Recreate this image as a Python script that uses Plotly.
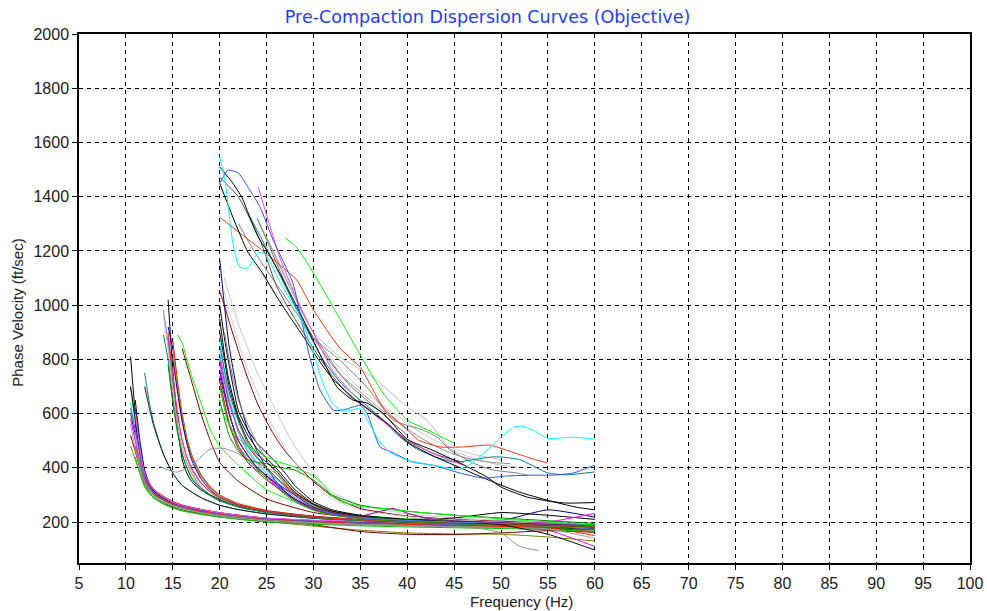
import plotly.graph_objects as go

# ---------------- Group A: curves starting near 10.5-12 Hz ----------------
GA_F = [10.5, 11, 11.5, 12, 12.5, 13, 14, 15, 16, 18, 20, 22, 25, 30, 35, 40, 45, 50, 55, 60]
A_VELS = [
    [810, 600, 450, 360, 325, 305, 282, 265, 252, 238, 226, 218, 208, 200, 196, 192, 190, 186, 180, 172],
    [640, 540, 440, 370, 335, 315, 290, 272, 260, 244, 232, 222, 212, 204, 198, 194, 190, 188, 184, 178],
    [700, 560, 430, 350, 318, 300, 278, 262, 250, 236, 224, 216, 206, 198, 192, 188, 184, 180, 176, 170],
    [None, 560, 470, 380, 340, 318, 292, 274, 262, 246, 234, 225, 214, 206, 200, 196, 193, 190, 186, 180],
    [580, 500, 420, 360, 328, 308, 284, 268, 255, 240, 228, 220, 210, 202, 196, 192, 188, 184, 170, 110],
    [None, 620, 480, 390, 345, 320, 295, 276, 263, 247, 235, 226, 214, 205, 199, 194, 190, 185, 178, 165],
    [None, 650, 500, 390, 340, 315, 290, 272, 260, 245, 233, 224, 213, 205, 198, 194, 191, 188, 185, 182],
    [480, 430, 380, 330, 305, 288, 268, 254, 243, 230, 220, 212, 202, 185, 170, 160, 156, 155, 145, 130],
    [600, 520, 440, 370, 335, 312, 287, 270, 258, 243, 231, 222, 212, 204, 198, 193, 189, 186, 182, 178],
    [None, None, None, 750, 640, 560, 450, 380, 335, 290, 262, 246, 230, 214, 205, 199, 195, 191, 187, 184],
    [None, None, None, 700, 620, 550, 450, 380, 335, 290, 262, 246, 230, 214, 205, 199, 195, 191, 187, 183],
    [520, 460, 400, 350, 322, 302, 280, 264, 252, 238, 226, 218, 208, 190, 165, 155, 154, 160, 168, 162],
    [None, 520, 440, 370, 338, 315, 290, 272, 258, 242, 230, 222, 212, 204, 200, 196, 193, 190, 186, 182],
    [None, 480, 400, 340, 312, 294, 272, 256, 245, 232, 221, 213, 203, 195, 190, 186, 183, 180, 176, 172],
    [700, 580, 460, 375, 338, 314, 288, 270, 258, 243, 230, 222, 212, 205, 200, 197, 195, 193, 190, 186],
    [620, 540, 450, 365, 330, 310, 285, 268, 256, 242, 230, 221, 211, 203, 197, 193, 190, 187, 183, 176],
    [None, 480, 410, 355, 326, 306, 282, 266, 254, 240, 228, 220, 209, 201, 195, 191, 187, 184, 180, 150],
    [None, 440, 380, 330, 305, 288, 266, 252, 241, 228, 218, 210, 200, 192, 186, 182, 179, 176, 172, 165],
    [560, 470, 400, 345, 318, 298, 276, 260, 248, 234, 222, 214, 204, 196, 190, 186, 183, 180, 175, 140],
    [None, 600, 470, 380, 342, 318, 292, 273, 261, 246, 234, 225, 215, 207, 202, 198, 195, 192, 189, 185],
]
A_COLORS = ["#000000", "#00FFFF", "#00FF00", "#0000FF", "#FF00FF", "#FF0000", "#000080",
            "#808000", "#800080", "#008080", "#202020", "#800000", "#C0C0C0", "#008000",
            "#000000", "#4060FF", "#FF2000", "#00C000", "#A0A0A0", "#FF60FF"]

# gray curve ending early near 54 Hz
A_GRAY_F = [11, 11.5, 12, 13, 15, 18, 20, 25, 30, 35, 40, 45, 48, 50, 52, 54]
A_GRAY_V = [470, 410, 350, 300, 262, 236, 226, 208, 198, 192, 188, 182, 175, 160, 110, 95]

# ---------------- Group B: curves starting near 14-16 Hz ----------------
GB_F = [14, 14.5, 15, 15.5, 16, 16.5, 17, 18, 19, 20, 22, 25, 30, 35, 40, 45, 50, 55, 60]
B_VELS = [
    [None, 1020, 760, 560, 430, 380, 350, 318, 300, 285, 262, 240, 220, 208, 200, 195, 190, 185, 178],
    [980, 860, 700, 560, 470, 420, 380, 330, 300, 280, 256, 236, 216, 205, 198, 193, 189, 185, 180],
    [890, 800, 660, 540, 450, 400, 360, 320, 296, 278, 255, 235, 216, 206, 200, 195, 191, 187, 182],
    [None, 920, 840, 700, 580, 500, 440, 370, 325, 298, 265, 240, 220, 208, 202, 197, 193, 189, 185],
    [None, None, 870, 720, 600, 510, 450, 375, 330, 300, 268, 243, 222, 210, 203, 198, 194, 190, 186],
    [None, None, 840, 700, 590, 500, 445, 370, 325, 298, 265, 240, 220, 208, 200, 195, 190, 185, 180],
    [None, None, None, 890, 860, 800, 740, 640, 540, 480, 410, 320, 250, 225, 212, 205, 200, 195, 188],
    [None, None, None, None, 840, 780, 720, 600, 500, 420, 350, 285, 235, 215, 206, 200, 196, 191, 186],
    [None, 880, 740, 600, 500, 440, 400, 345, 310, 288, 260, 238, 218, 207, 200, 195, 191, 187, 183],
    [960, 840, 690, 560, 470, 420, 385, 340, 308, 287, 260, 238, 218, 207, 200, 196, 192, 188, 184],
    [None, None, 800, 680, 570, 490, 430, 360, 318, 292, 262, 240, 220, 208, 200, 200, 205, 245, 218],
    [None, 780, 640, 530, 450, 400, 365, 325, 300, 282, 258, 237, 217, 206, 199, 194, 190, 186, 181],
    [None, 900, 740, 600, 500, 440, 395, 345, 312, 290, 262, 240, 220, 208, 201, 196, 192, 188, 184],
]
B_COLORS = ["#000000", "#808080", "#008080", "#0000FF", "#FF0000", "#C0A000", "#00FF00",
            "#800000", "#FF00FF", "#C0C0C0", "#000080", "#008000", "#FF3030"]

# gray curve with a hump near 20 Hz
B_HUMP_F = [13.6, 14.5, 15.4, 16.8, 18, 19, 20.4, 21.5, 22.5, 24, 26, 28, 30, 35, 40, 45, 50, 55, 60]
B_HUMP_V = [405, 392, 384, 403, 440, 470, 472, 460, 440, 403, 340, 285, 250, 220, 205, 198, 192, 186, 178]

# ---------------- Group C: curves starting near 20 Hz ----------------
GC_F = [20, 20.5, 21, 22, 23, 24, 25, 26, 27, 28, 30, 32, 35, 40, 45, 50, 55, 60]
C_VELS = [
    [1170, 1000, 850, 660, 540, 460, 400, 350, 312, 285, 250, 232, 216, 204, 198, 193, 189, 184],
    [1050, 1000, 940, 830, 730, 640, 570, 510, 460, 420, 350, 295, 250, 222, 210, 203, 197, 190],
    [None, 1100, 1040, 930, 840, 750, 680, 610, 540, 480, 380, 310, 262, 230, 215, 207, 200, 193],
    [1000, 880, 780, 610, 540, 490, 455, 420, 380, 335, 275, 245, 225, 210, 215, 235, 225, 210],
    [950, 820, 720, 590, 520, 470, 435, 400, 360, 320, 268, 240, 222, 208, 201, 196, 192, 188],
    [880, 760, 660, 540, 470, 420, 390, 360, 330, 300, 258, 234, 218, 206, 200, 195, 191, 187],
    [800, 720, 640, 540, 480, 435, 400, 365, 335, 305, 262, 237, 219, 207, 200, 195, 190, 182],
    [790, 690, 610, 480, 420, 390, 365, 335, 305, 280, 245, 228, 214, 204, 199, 194, 200, 232],
    [760, 680, 600, 500, 445, 400, 370, 340, 310, 285, 250, 230, 215, 205, 199, 194, 190, 185],
    [700, 620, 560, 480, 430, 395, 360, 330, 300, 275, 243, 226, 212, 202, 196, 191, 187, 183],
    [850, 760, 680, 570, 490, 440, 400, 365, 330, 300, 255, 232, 216, 205, 199, 194, 190, 186],
    [None, 900, 800, 650, 560, 490, 430, 380, 340, 310, 265, 238, 220, 207, 200, 195, 191, 186],
    [720, 640, 570, 480, 440, 420, 400, 380, 345, 310, 262, 235, 218, 206, 200, 195, 190, 184],
    [650, 580, 520, 460, 430, 420, 415, 405, 398, 392, 355, 300, 262, 240, 225, 215, 205, 195],
    [None, 1050, 980, 860, 760, 680, 600, 530, 470, 420, 340, 285, 245, 220, 208, 200, 194, 188],
    [720, 640, 560, 470, 420, 385, 355, 330, 305, 282, 248, 229, 214, 204, 197, 192, 187, 180],
    [900, 800, 700, 580, 500, 450, 420, 390, 350, 310, 265, 240, 222, 209, 202, 190, 155, 97],
    [820, 730, 650, 530, 460, 415, 380, 350, 320, 292, 252, 231, 216, 206, 200, 196, 193, 190],
]
C_COLORS = ["#000080", "#800000", "#C8C8C8", "#000000", "#000000", "#00FFFF", "#FF0000",
            "#FF00FF", "#0000FF", "#00C000", "#008080", "#808080", "#A09000", "#008000",
            "#D0D0D0", "#804000", "#101010", "#4080FF"]

# purple curve with a bump near 38 Hz
C_PURPLE_F = [20, 21, 22, 24, 26, 28, 30, 33, 35, 37, 38.5, 40, 42, 45, 50, 55, 60]
C_PURPLE_V = [740, 600, 500, 400, 345, 300, 255, 228, 222, 238, 250, 233, 215, 205, 198, 192, 186]

# lime curve with a shoulder near 25-30 Hz
C_LIME_F = [20, 21, 22, 23, 24, 25, 26, 28, 30, 31, 32, 33, 35, 38, 40, 45, 50, 55, 60]
C_LIME_V = [620, 560, 510, 480, 460, 440, 425, 403, 370, 340, 295, 275, 258, 248, 240, 225, 212, 200, 190]

# ---------------- Group D: upper curves (20-27 Hz start) ----------------
D_CYAN_F = [20.0, 20.6, 21.4, 22.1, 23.0, 24.1, 24.8, 26.5, 28.6, 29.9, 31.0, 32.0, 32.8, 34.0, 35.0,
            36.0, 37.0, 38.0, 40.0, 42.0, 44.0, 45.6, 47.0, 48.5, 50.0, 51.3, 52.3, 53.4, 55.0, 57.7, 60.0]
D_CYAN_V = [1550, 1450, 1230, 1140, 1137, 1192, 1192, 1080, 956, 834, 713, 640, 615, 612, 620,
            560, 500, 460, 428, 414, 402, 394, 420, 465, 513, 550, 554, 539, 509, 513, 506]

D_BLUE_F = [20.0, 20.9, 22.0, 23.2, 24.3, 25.7, 27.8, 29.6, 30.7, 32.1, 33.0, 34.2, 35.0, 35.7, 37.1,
            38.2, 40.6, 42.7, 45.6, 48.1, 50.6, 53.4, 55.5, 57.7, 60.0]
D_BLUE_V = [1450, 1498, 1487, 1425, 1362, 1240, 1082, 808, 687, 613, 612, 624, 631, 602, 477,
            460, 421, 410, 381, 362, 370, 373, 373, 381, 410]

D_RED_F = [20.0, 22, 24.1, 26, 28.2, 30.0, 32.8, 35.0, 37.4, 40.0, 41.2, 43.5, 46, 48.8, 50.6, 53.1, 54.9]
D_RED_V = [1325, 1270, 1214, 1160, 1093, 982, 842, 770, 624, 539, 502, 477, 477, 484, 465, 436, 418]

D_GREEN_F = [27.0, 28.2, 30.0, 32.1, 33.9, 35.3, 37.4, 40.0, 42.2, 45.0]
D_GREEN_V = [1247, 1214, 1118, 993, 882, 797, 676, 576, 539, 491]

D_BLACK1_F = [20, 21.4, 22.4, 23.2, 24.1, 25, 26.4, 27.5, 28.6, 29.6, 31, 32.5, 34.2, 35.7, 37.4,
              40, 42.7, 45.6, 48.5, 50, 52.8, 55.5, 57, 60]
D_BLACK1_V = [1510, 1450, 1395, 1325, 1251, 1203, 1118, 1044, 970, 897, 797, 698, 650, 639, 602,
              505, 465, 418, 366, 329, 292, 275, 270, 272]

D_BLACK2_F = [20, 21.4, 23, 24.5, 26.1, 27.5, 29, 30.5, 32, 34, 36, 38, 40, 43, 46, 49, 52, 55, 58, 60]
D_BLACK2_V = [1450, 1325, 1196, 1122, 1030, 956, 880, 800, 730, 665, 610, 560, 495, 440, 395, 350, 310, 280, 255, 245]

D_TEAL_F = [23, 25, 27, 29, 31, 33, 35, 37, 39, 41, 43, 45, 47, 49, 50, 52, 55, 57, 60]
D_TEAL_V = [1340, 1210, 1070, 930, 800, 710, 650, 590, 520, 470, 440, 421, 430, 440, 440, 430, 381, 374, 385]

D_MAGENTA_F = [24.1, 26.4, 28.6, 30, 32, 34, 36, 38, 40, 42, 44, 46]
D_MAGENTA_V = [1436, 1177, 993, 897, 760, 680, 610, 555, 505, 465, 435, 410]

D_LGRAY_F = [24, 26, 28, 30, 32.8, 36.3, 40, 42.1, 44.6, 47, 49.9, 51.7]
D_LGRAY_V = [1320, 1180, 1040, 900, 809, 735, 624, 576, 470, 436, 410, 403]

D_GRAY1_F = [22, 24, 26, 28, 30, 32.8, 35.7, 38.5, 41.7, 43.2, 44.6, 47, 49.1, 51.7, 52.8]
D_GRAY1_V = [1300, 1180, 1080, 980, 880, 797, 698, 576, 539, 513, 465, 418, 392, 381, 373]

D_GRAY2_F = [25, 27, 29, 31, 33, 35, 37, 39, 41, 43, 45, 47, 49, 51]
D_GRAY2_V = [1250, 1100, 960, 840, 740, 680, 620, 570, 520, 480, 450, 430, 420, 415]

D_DGRAY_F = [20, 22, 24.3, 26.1, 28, 30, 32, 34, 36, 38, 40, 43, 46]
D_DGRAY_V = [1472, 1399, 1240, 1067, 950, 840, 740, 660, 615, 560, 500, 450, 420]

D_LGRAY2_F = [23.5, 25, 27, 29, 31, 33, 35, 37, 39, 41, 43, 45, 47, 50]
D_LGRAY2_V = [1160, 1090, 1000, 920, 840, 760, 690, 640, 590, 540, 500, 470, 450, 430]

D_GRAY3_F = [24, 25, 26, 27, 28, 30, 32, 34, 36, 38, 40]
D_GRAY3_V = [1320, 1240, 1160, 1080, 1000, 880, 780, 700, 640, 580, 520]

X_TICKS = list(range(5, 101, 5))
Y_TICKS = list(range(200, 2001, 200))

fig = go.Figure()

def add(fx, vy, color):
    fig.add_trace(go.Scatter(x=fx, y=vy, mode="lines",
                             line=dict(color=color, width=1, shape="spline", smoothing=0.5),
                             connectgaps=False, hoverinfo="skip", showlegend=False))

for vels, col in zip(A_VELS, A_COLORS):
    add(GA_F, vels, col)
add(A_GRAY_F, A_GRAY_V, "#909090")
for vels, col in zip(B_VELS, B_COLORS):
    add(GB_F, vels, col)
add(B_HUMP_F, B_HUMP_V, "#909090")
for vels, col in zip(C_VELS, C_COLORS):
    add(GC_F, vels, col)
add(C_PURPLE_F, C_PURPLE_V, "#800080")
add(C_LIME_F, C_LIME_V, "#00FF00")

add(D_LGRAY_F, D_LGRAY_V, "#C0C0C0")
add(D_LGRAY2_F, D_LGRAY2_V, "#C8C8C8")
add(D_GRAY1_F, D_GRAY1_V, "#808080")
add(D_GRAY2_F, D_GRAY2_V, "#909090")
add(D_GRAY3_F, D_GRAY3_V, "#707070")
add(D_DGRAY_F, D_DGRAY_V, "#505050")
add(D_TEAL_F, D_TEAL_V, "#008080")
add(D_GREEN_F, D_GREEN_V, "#00FF00")
add(D_RED_F, D_RED_V, "#FF3010")
add(D_MAGENTA_F, D_MAGENTA_V, "#FF40FF")
add(D_BLACK2_F, D_BLACK2_V, "#000000")
add(D_BLACK1_F, D_BLACK1_V, "#000000")
add(D_BLUE_F, D_BLUE_V, "#3050FF")
add(D_CYAN_F, D_CYAN_V, "#00FFFF")

FONT = "Liberation Sans, Arial, sans-serif"
axis_common = dict(
    showgrid=True, gridcolor="#000000", gridwidth=1, griddash="4px,4px",
    showline=True, linecolor="#000000", linewidth=1.5, mirror=True,
    ticks="outside", ticklen=5, tickcolor="#000000", tickwidth=1,
    tickfont=dict(family=FONT, size=16, color="#202020"),
    zeroline=False, automargin=False,
)

fig.update_layout(
    width=987, height=611,
    margin=dict(l=79, r=17, t=34, b=48),
    paper_bgcolor="white", plot_bgcolor="white",
    title=dict(text="Pre-Compaction Dispersion Curves (Objective)", x=0.494, xanchor="center",
               y=0.972, yanchor="middle",
               font=dict(family="DejaVu Sans, sans-serif", size=17.5, color="#1E3CFF")),
    xaxis=dict(range=[5, 100], tickvals=X_TICKS, ticktext=[str(t) for t in X_TICKS],
               **axis_common),
    yaxis=dict(range=[49, 2000], tickvals=Y_TICKS, ticktext=[str(t) for t in Y_TICKS],
               **axis_common),
    annotations=[
        dict(text="Phase Velocity (ft/sec)", textangle=-90, xref="paper", yref="paper",
             x=-0.0685, y=0.473, xanchor="center", yanchor="middle", showarrow=False,
             font=dict(family=FONT, size=15, color="#202020")),
        dict(text="Frequency (Hz)", xref="paper", yref="paper",
             x=0.497, y=-0.073, xanchor="center", yanchor="middle", showarrow=False,
             font=dict(family=FONT, size=15, color="#202020")),
    ],
)

fig.write_html("out.html")
